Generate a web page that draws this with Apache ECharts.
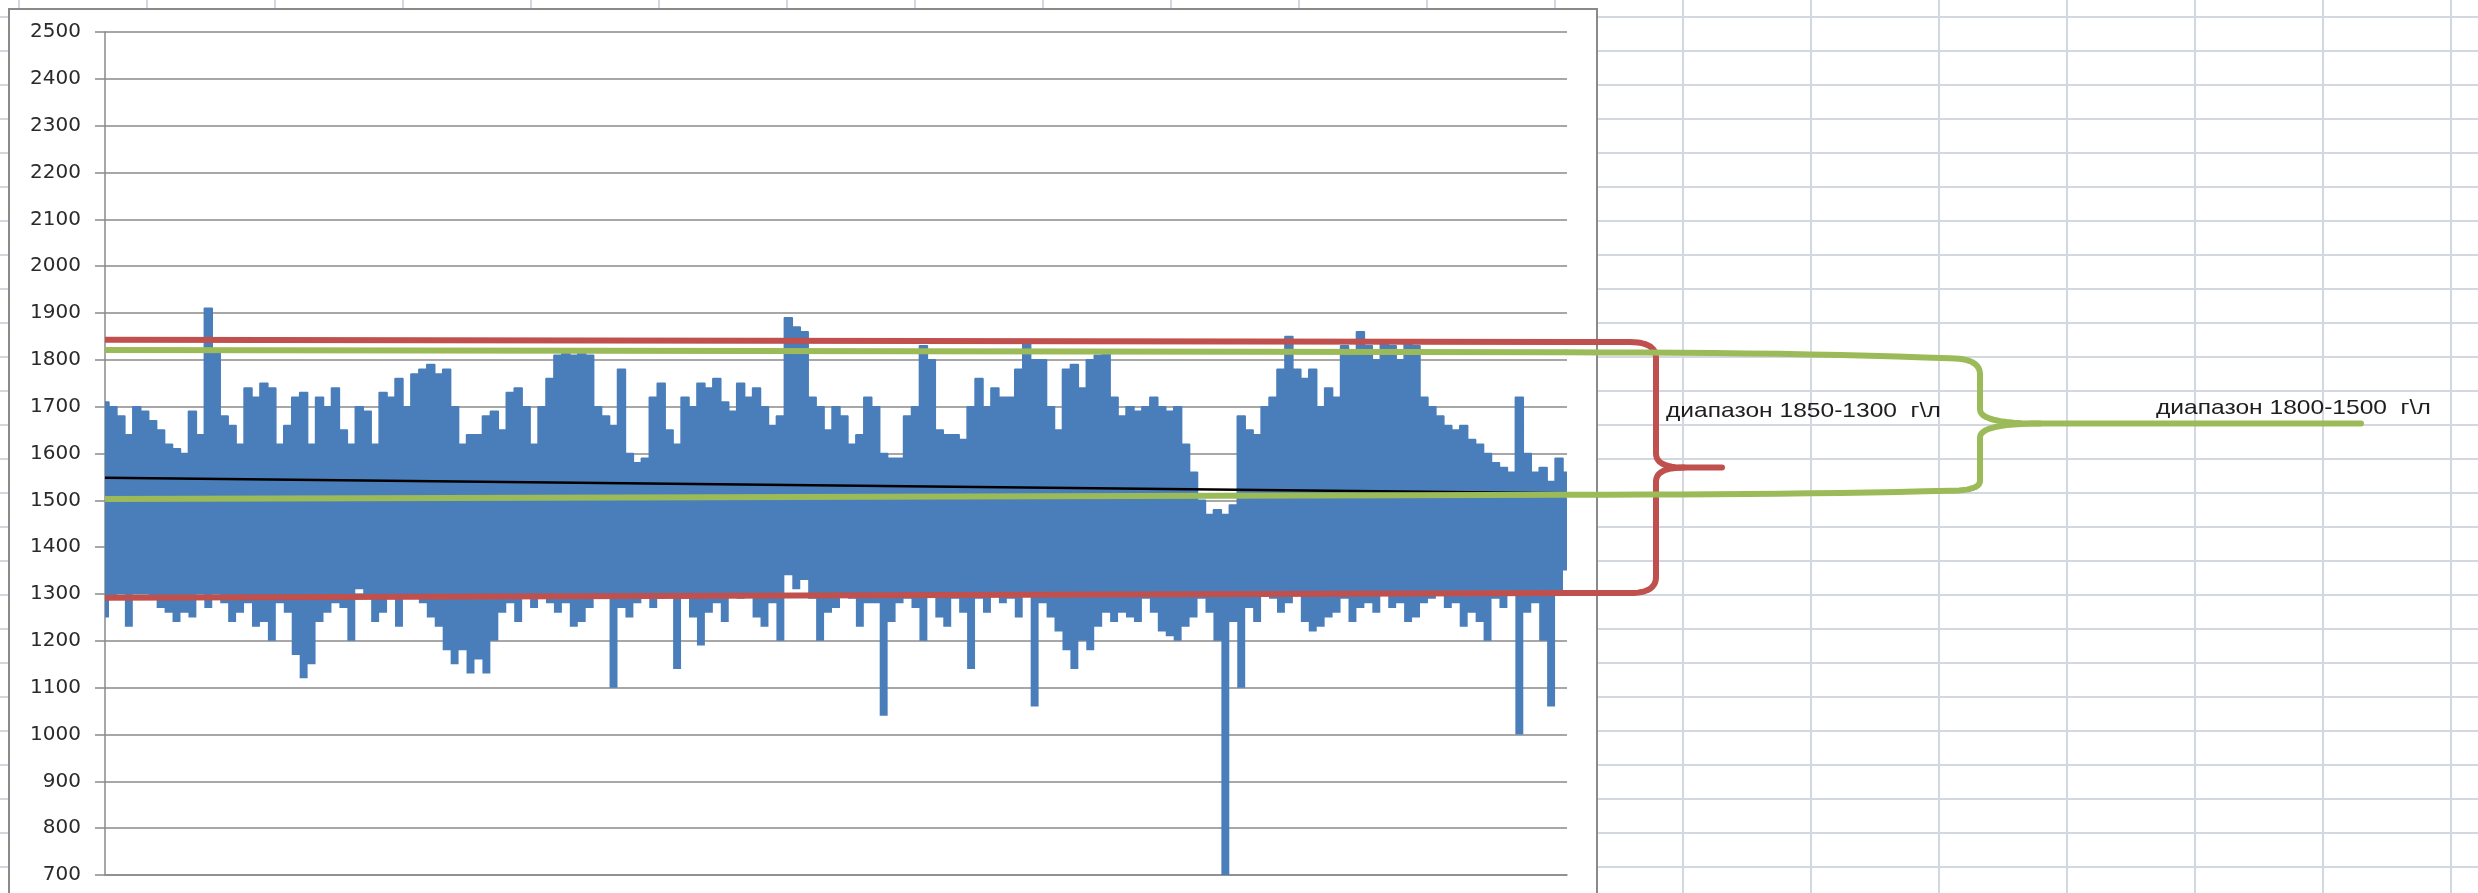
<!DOCTYPE html>
<html>
<head>
<meta charset="utf-8">
<script src="https://cdn.jsdelivr.net/npm/echarts@6/dist/echarts.min.js"></script>
<style>
html,body{margin:0;padding:0;width:2478px;height:893px;overflow:hidden;}
body{
  background-color:#ffffff;
  background-image:linear-gradient(to right,#d3d7e0 2px,transparent 2px),linear-gradient(to bottom,#d3d7e0 2px,transparent 2px);
  background-size:128px 34px;
  background-position:18px 16px;
}
#area{position:absolute;left:8px;top:8px;width:1590px;height:900px;background:#fff;border:2px solid #8a8a8a;box-sizing:border-box;}
#chart{position:absolute;left:0;top:0;width:2478px;height:893px;}
</style>
</head>
<body>
<div id="area"></div>
<div id="chart"></div>
<script>
// upper envelope of the measured series (one value per bin)
const hiValues = [1710,1700,1680,1640,1700,1690,1670,1650,1620,1610,
1600,1690,1640,1910,1820,1680,1660,1620,1740,1720,
1750,1740,1620,1660,1720,1730,1620,1720,1700,1740,
1650,1620,1700,1690,1620,1730,1720,1760,1700,1770,
1780,1790,1770,1780,1700,1620,1640,1640,1680,1690,
1650,1730,1740,1700,1620,1700,1760,1810,1820,1810,
1820,1810,1700,1680,1660,1780,1600,1580,1590,1720,
1750,1650,1620,1720,1700,1750,1740,1760,1710,1690,
1750,1720,1740,1700,1660,1680,1890,1870,1860,1720,
1700,1650,1700,1680,1620,1640,1720,1700,1600,1590,
1590,1680,1700,1830,1800,1650,1640,1640,1630,1700,
1760,1700,1740,1720,1720,1780,1840,1800,1800,1700,
1650,1780,1790,1740,1800,1810,1820,1720,1680,1700,
1690,1700,1720,1700,1690,1700,1620,1560,1500,1470,
1480,1470,1490,1680,1650,1640,1700,1720,1780,1850,
1780,1760,1780,1700,1740,1720,1830,1820,1860,1830,
1800,1840,1830,1800,1840,1830,1720,1700,1680,1660,
1650,1660,1630,1620,1600,1580,1570,1560,1720,1600,
1560,1570,1540,1590,1560];
// lower envelope of the measured series
const loValues = [1250,1290,1300,1230,1300,1300,1290,1270,1260,1240,
1260,1250,1300,1270,1300,1280,1240,1260,1280,1230,
1240,1200,1280,1260,1170,1120,1150,1240,1260,1280,
1270,1200,1310,1300,1240,1260,1300,1230,1300,1290,
1280,1250,1230,1180,1150,1180,1130,1160,1130,1200,
1260,1280,1240,1300,1270,1290,1280,1260,1280,1230,
1240,1270,1300,1290,1100,1270,1250,1280,1300,1270,
1290,1300,1140,1290,1250,1190,1260,1280,1240,1300,
1290,1300,1250,1230,1280,1200,1340,1310,1330,1290,
1200,1260,1270,1300,1290,1230,1280,1280,1040,1240,
1280,1290,1270,1200,1300,1250,1230,1290,1260,1140,
1290,1260,1300,1280,1290,1250,1300,1060,1280,1250,
1220,1180,1140,1200,1180,1230,1260,1240,1260,1250,
1240,1290,1260,1220,1210,1200,1230,1250,1290,1260,
1200,700,1240,1100,1270,1240,1300,1290,1260,1280,
1300,1240,1220,1230,1250,1260,1290,1240,1270,1280,
1260,1300,1270,1280,1240,1250,1280,1290,1300,1270,
1280,1230,1260,1240,1200,1290,1270,1300,1000,1260,
1280,1200,1060,1300,1350];
const categories = hiValues.map((v, i) => String(i + 1));
const yTicks = {min: 700, max: 2500, step: 100};
// reference lines: [start, end]
const redUpper = [1843, 1838];
const redLower = [1292, 1302];
const greenUpper = [1821, 1816];
const greenLower = [1503, 1512];
const trendLine = [1548, 1515];
const label1 = 'диапазон 1850-1300  г\\л';
const label2 = 'диапазон 1800-1500  г\\л';

const rangeValues = hiValues.map((h, i) => h - loValues[i]);
const RED = '#c0504d', GREEN = '#9bbb59', BLUE = '#4a7ebb';

function seg(arr) { return [[0, arr[0]], [1, arr[1]]]; }
function lineSeries(arr, color, width, z) {
  return {type: 'line', xAxisIndex: 1, data: seg(arr), symbol: 'none', silent: true,
          lineStyle: {color: color, width: width, cap: 'butt'}, z: z, clip: false};
}

const chart = echarts.init(document.getElementById('chart'), null, {renderer: 'canvas'});
chart.setOption({
  animation: false,
  backgroundColor: 'transparent',
  grid: {left: 105, right: 911, top: 32, bottom: 18, containLabel: false},
  xAxis: [
    {type: 'category', data: categories, boundaryGap: false,
     axisLine: {show: true, lineStyle: {color: '#8a8a8a', width: 1.5}},
     axisTick: {show: false}, axisLabel: {show: false}, splitLine: {show: false}},
    {type: 'value', min: 0, max: 1, show: false}
  ],
  yAxis: {type: 'value', min: yTicks.min, max: yTicks.max, interval: yTicks.step,
    axisLine: {show: true, lineStyle: {color: '#8a8a8a', width: 1.5}},
    axisTick: {show: true, inside: false, length: 10, lineStyle: {color: '#8a8a8a', width: 1.5}},
    axisLabel: {margin: 24, color: '#2a2a2a', fontFamily: 'DejaVu Sans', fontSize: 20,
                formatter: function (v) { return String(v); }},
    splitLine: {show: true, lineStyle: {color: '#8a8a8a', width: 1.5}}},
  series: [
    {type: 'line', stack: 'band', step: 'middle', data: loValues, symbol: 'none', silent: true,
     lineStyle: {width: 0, opacity: 0}, z: 2},
    {type: 'line', stack: 'band', step: 'middle', data: rangeValues, symbol: 'none', silent: true,
     lineStyle: {color: BLUE, width: 1.5}, areaStyle: {color: BLUE, opacity: 1}, z: 2},
    lineSeries(trendLine, '#000000', 2.5, 5),
    lineSeries(greenLower, GREEN, 6, 6),
    lineSeries(greenUpper, GREEN, 6, 6),
    lineSeries(redLower, RED, 6, 7),
    lineSeries(redUpper, RED, 6, 7)
  ]
});

function py(v) { return chart.convertToPixel({yAxisIndex: 0}, v); }
const xR = chart.convertToPixel({xAxisIndex: 1}, 1);

// quadratic curve sampling for the hand-drawn braces
function quad(p0, c, p1) {
  const pts = [];
  for (let k = 0; k <= 12; k++) {
    const t = k / 12, u = 1 - t;
    pts.push([u * u * p0[0] + 2 * u * t * c[0] + t * t * p1[0], u * u * p0[1] + 2 * u * t * c[1] + t * t * p1[1]]);
  }
  return pts;
}
function poly(points, color, z) {
  return {type: 'polyline', shape: {points: points}, silent: true, z: z,
          style: {stroke: color, lineWidth: 6, fill: null, lineJoin: 'round', lineCap: 'round'}};
}

// red brace
const rT = py(redUpper[1]), rB = py(redLower[1]), rM = (rT + rB) / 2;
const rX = 1656;
const redTop = [[xR, rT]].concat(quad([rX - 26, rT], [rX, rT], [rX, rT + 16]))
  .concat(quad([rX, rM - 14], [rX, rM], [rX + 28, rM])).concat([[1722, rM]]);
const redBot = [[rX + 28, rM]].concat(quad([rX + 28, rM], [rX, rM], [rX, rM + 14]))
  .concat(quad([rX, rB - 16], [rX, rB], [rX - 26, rB])).concat([[xR, rB]]);
// green brace
const gT = py(greenUpper[1]), gB = py(greenLower[1]), gM = (gT + gB) / 2;
const gX = 1980;
const greenTop = quad([xR, gT], [1800, gT], [gX - 30, gT + 6])
  .concat(quad([gX - 30, gT + 6], [gX, gT + 6], [gX, gT + 22]))
  .concat(quad([gX, gM - 14], [gX, gM], [gX + 60, gM])).concat([[2361, gM]]);
const greenBot = quad([gX + 60, gM], [gX, gM], [gX, gM + 14])
  .concat(quad([gX, gB - 14], [gX, gB - 4], [gX - 30, gB - 4]))
  .concat(quad([gX - 30, gB - 4], [1800, gB], [xR, gB]));

chart.setOption({
  graphic: [
    poly(redTop, RED, 20), poly(redBot, RED, 20),
    poly(greenTop, GREEN, 21), poly(greenBot, GREEN, 21),
    {type: 'text', x: 1666, y: 411, scaleX: 1.17, silent: true, z: 30,
     style: {text: label1, fontFamily: 'Liberation Sans', fontSize: 21, fill: '#1e1e1e', verticalAlign: 'middle', align: 'left'}},
    {type: 'text', x: 2156, y: 408, scaleX: 1.17, silent: true, z: 30,
     style: {text: label2, fontFamily: 'Liberation Sans', fontSize: 21, fill: '#1e1e1e', verticalAlign: 'middle', align: 'left'}}
  ]
});
</script>
</body>
</html>
